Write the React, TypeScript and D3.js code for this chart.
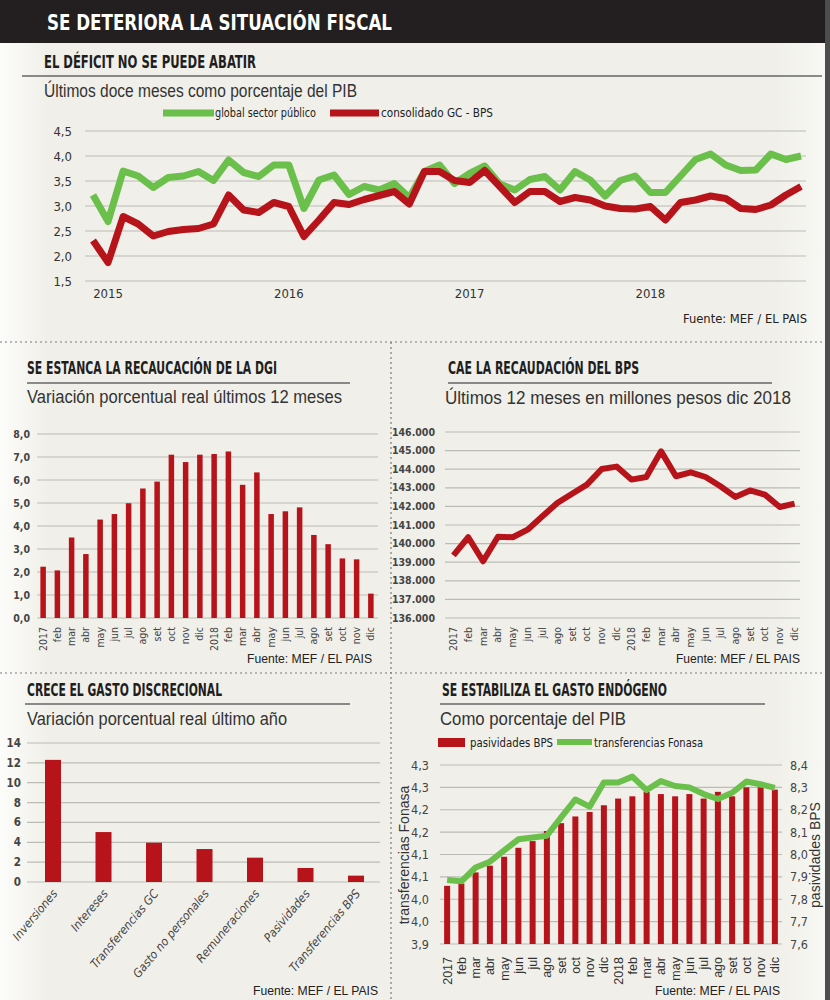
import { useEffect, useRef } from 'react';
import * as d3 from 'd3';

const W = 830;
const H = 1000;

// ---- datos: déficit fiscal (últimos 12 meses, % PIB), ene-2015 a dic-2018
const DEFICIT_YEARS = ['2015', '2016', '2017', '2018'];
const DEFICIT_GLOBAL = [
  3.22, 2.69, 3.7, 3.6, 3.37, 3.57, 3.6, 3.69, 3.51, 3.92, 3.67, 3.59,
  3.82, 3.82, 2.95, 3.52, 3.62, 3.23, 3.39, 3.32, 3.45, 3.17, 3.69, 3.82,
  3.45, 3.65, 3.8, 3.44, 3.32, 3.53, 3.59, 3.32, 3.69, 3.52, 3.2, 3.51,
  3.6, 3.27, 3.27, 3.6, 3.93, 4.04, 3.82, 3.71, 3.72, 4.04, 3.93, 4.0,
];
const DEFICIT_GC_BPS = [
  2.31, 1.87, 2.79, 2.64, 2.4, 2.49, 2.53, 2.55, 2.64, 3.22, 2.92, 2.87,
  3.07, 2.99, 2.39, 2.72, 3.07, 3.03, 3.13, 3.21, 3.29, 3.04, 3.69, 3.69,
  3.51, 3.47, 3.71, 3.39, 3.07, 3.29, 3.29, 3.09, 3.17, 3.12, 3.0, 2.95,
  2.94, 2.99, 2.72, 3.07, 3.12, 3.2, 3.15, 2.95, 2.93, 3.02, 3.22, 3.39,
];

// ---- meses 2017-2018 (eje compartido por tres gráficos)
const MONTHS = [
  '2017', 'feb', 'mar', 'abr', 'may', 'jun', 'jul', 'ago', 'set', 'oct', 'nov', 'dic',
  '2018', 'feb', 'mar', 'abr', 'may', 'jun', 'jul', 'ago', 'set', 'oct', 'nov', 'dic',
];
const DGI_VAR = [
  2.23, 2.07, 3.5, 2.78, 4.28, 4.52, 4.99, 5.63, 5.93, 7.1, 6.78, 7.1,
  7.13, 7.24, 5.79, 6.33, 4.52, 4.64, 4.81, 3.61, 3.21, 2.59, 2.55, 1.06,
];
const BPS_RECAUDACION = [
  139370, 140340, 139050, 140370, 140340, 140750, 141470, 142180, 142680, 143170, 144010, 144140,
  143440, 143580, 144960, 143620, 143830, 143580, 143080, 142510, 142860, 142630, 141970, 142150,
];

// ---- gasto discrecional
const GASTO_CATS = [
  'Inversiones', 'Intereses', 'Transferencias GC', 'Gasto no personales',
  'Remuneraciones', 'Pasividades', 'Transferencias BPS',
];
const GASTO_VAR = [12.3, 5.03, 3.96, 3.32, 2.45, 1.41, 0.64];

// ---- gasto endógeno
const PASIVIDADES_BPS = [
  7.86, 7.87, 7.92, 7.95, 7.99, 8.03, 8.06, 8.105, 8.14, 8.17, 8.19, 8.22,
  8.25, 8.26, 8.28, 8.27, 8.26, 8.27, 8.25, 8.28, 8.26, 8.3, 8.3, 8.29,
];
const TRANSF_FONASA = [
  4.043, 4.04, 4.071, 4.084, 4.109, 4.134, 4.138, 4.142, 4.183, 4.223, 4.207, 4.261,
  4.261, 4.274, 4.244, 4.264, 4.253, 4.25, 4.235, 4.224, 4.238, 4.263, 4.257, 4.249,
];
const FONASA_TICKS = [3.9, 3.95, 4.0, 4.05, 4.1, 4.15, 4.2, 4.25, 4.3];
const FONASA_TICK_LABELS = ['3,9', '4,0', '4,0', '4,1', '4,1', '4,2', '4,2', '4,3', '4,3'];

const RED = '#b7131b';
const GREEN = '#6bbf4b';
const GRID = '#bcbcb7';
const INK = '#2a2a2a';
const NARROW = "'Liberation Sans Narrow', 'DejaVu Sans Condensed', 'Roboto Condensed', 'Liberation Sans', Arial, sans-serif";
const SANS = "'Liberation Sans', Arial, Helvetica, sans-serif";

const loc = d3.formatLocale({ decimal: ',', thousands: '.', grouping: [3], currency: ['$', ''] });
const f1 = loc.format('.1f');
const fMiles = loc.format(',.0f');

type G = d3.Selection<SVGGElement, unknown, null, undefined>;

function label(
  g: G, x: number, y: number, s: string,
  o: { size?: number; family?: string; weight?: string | number; fill?: string; anchor?: string; width?: number; style?: string; transform?: string } = {},
) {
  const t = g.append('text')
    .attr('x', x)
    .attr('y', y)
    .attr('font-size', o.size ?? 12)
    .attr('font-family', o.family ?? NARROW)
    .attr('font-weight', o.weight ?? 400)
    .attr('fill', o.fill ?? INK)
    .attr('text-anchor', o.anchor ?? 'start')
    .text(s);
  if (o.width) t.attr('textLength', o.width).attr('lengthAdjust', 'spacingAndGlyphs');
  if (o.style) t.attr('font-style', o.style);
  if (o.transform) t.attr('transform', o.transform);
  return t;
}

function heading(g: G, x: number, y: number, title: string, tw: number, lx1: number, lx2: number, ly: number, sub: string, sw: number, sy: number, sx = x) {
  label(g, x, y, title, { size: 17.5, weight: 700, width: tw, fill: '#1e1e1e' });
  g.append('line').attr('x1', lx1).attr('x2', lx2).attr('y1', ly).attr('y2', ly).attr('stroke', '#666').attr('stroke-width', 1.5);
  label(g, sx, sy, sub, { size: 17.5, family: SANS, width: sw, fill: '#333' });
}

function hGrid(g: G, ys: number[], x1: number, x2: number) {
  g.selectAll(null).data(ys).join('line')
    .attr('x1', x1).attr('x2', x2)
    .attr('y1', (d) => d).attr('y2', (d) => d)
    .attr('stroke', GRID).attr('stroke-width', 1.2);
}

export default function App() {
  const ref = useRef<SVGSVGElement>(null);

  useEffect(() => {
    if (!ref.current) return;
    const svg = d3.select(ref.current);
    svg.selectAll('*').remove();

    const defs = svg.append('defs');
    const grad = defs.append('linearGradient').attr('id', 'bg').attr('x1', 0).attr('x2', 1).attr('y1', 0).attr('y2', 0);
    [['0%', '#fcfcfa'], ['6%', '#f0efe9'], ['93%', '#f0efe9'], ['99%', '#f7f7f3']].forEach(([o, c]) =>
      grad.append('stop').attr('offset', o).attr('stop-color', c));
    svg.append('rect').attr('width', W).attr('height', H).attr('fill', 'url(#bg)');

    const root = svg.append('g') as unknown as G;

    // barra de título
    root.append('rect').attr('x', 0).attr('y', 0).attr('width', 825).attr('height', 43).attr('fill', '#231f20');
    label(root, 47, 30, 'SE DETERIORA LA SITUACIÓN FISCAL', { size: 21, weight: 700, fill: '#fff', width: 345 });
    root.append('rect').attr('x', 825).attr('y', 0).attr('width', 5).attr('height', H).attr('fill', '#4d4d4d');

    // separadores punteados
    const dash = (x1: number, y1: number, x2: number, y2: number) =>
      root.append('line').attr('x1', x1).attr('y1', y1).attr('x2', x2).attr('y2', y2)
        .attr('stroke', '#7a7a7a').attr('stroke-width', 1.2).attr('stroke-dasharray', '2,3');
    dash(0, 342, 825, 342);
    dash(0, 673, 825, 673);
    dash(391, 342, 391, 1000);

    // ================= EL DÉFICIT NO SE PUEDE ABATIR
    {
      const g = root.append('g') as unknown as G;
      heading(g, 44, 68, 'EL DÉFICIT NO SE PUEDE ABATIR', 212, 22, 822, 76, 'Últimos doce meses como porcentaje del PIB', 313, 97);
      const x = d3.scaleLinear().domain([0, DEFICIT_GLOBAL.length - 1]).range([93, 801]);
      const y = d3.scaleLinear().domain([1.5, 4.5]).range([281, 131]);
      const ticks = y.ticks(6);
      hGrid(g, ticks.map((t) => y(t)), 85, 806);
      ticks.forEach((t) => label(g, 72, y(t) + 4.5, f1(t), { size: 13, anchor: 'end', fill: '#333' }));
      DEFICIT_YEARS.forEach((yr, k) => label(g, x(1 + 12 * k), 298, yr, { size: 13, anchor: 'middle', fill: '#333' }));

      // leyenda
      g.append('line').attr('x1', 163).attr('x2', 214).attr('y1', 113).attr('y2', 113).attr('stroke', GREEN).attr('stroke-width', 7);
      label(g, 215, 117, 'global sector público', { size: 12.5, width: 101, fill: '#222' });
      g.append('line').attr('x1', 330).attr('x2', 379).attr('y1', 113).attr('y2', 113).attr('stroke', RED).attr('stroke-width', 7);
      label(g, 381, 117, 'consolidado GC - BPS', { size: 12.5, width: 112, fill: '#222' });

      const line = d3.line<number>().x((_, i) => x(i)).y((d) => y(d));
      [[DEFICIT_GLOBAL, GREEN], [DEFICIT_GC_BPS, RED]].forEach(([data, color]) =>
        g.append('path').attr('d', line(data as number[])).attr('fill', 'none')
          .attr('stroke', color as string).attr('stroke-width', 7).attr('stroke-linejoin', 'round'));

      label(g, 683, 323, 'Fuente: MEF / EL PAIS', { size: 12, width: 124, fill: '#222' });
    }

    // ================= SE ESTANCA LA RECAUDACIÓN DE LA DGI
    {
      const g = root.append('g') as unknown as G;
      heading(g, 27, 374, 'SE ESTANCA LA RECAUCACIÓN DE LA DGI', 250, 27, 350, 383, 'Variación porcentual real últimos 12 meses', 315, 403);
      const x = d3.scalePoint<number>().domain(d3.range(MONTHS.length)).range([36, 378]).padding(0.5);
      const y = d3.scaleLinear().domain([0, 8]).range([618, 434]);
      const ticks = y.ticks(8);
      hGrid(g, ticks.map((t) => y(t)), 37, 378);
      ticks.forEach((t) => label(g, 30, y(t) + 3.5, f1(t), { size: 10.5, anchor: 'end', fill: '#444', weight: 700 }));
      g.selectAll(null).data(DGI_VAR).join('rect')
        .attr('x', (_, i) => (x(i) as number) - 2.75).attr('width', 5.5)
        .attr('y', (d) => y(d)).attr('height', (d) => y(0) - y(d)).attr('fill', RED);
      MONTHS.forEach((m, i) => {
        const cx = (x(i) as number) + 3.5;
        label(g, cx, 627, m, { size: 10.5, anchor: 'end', fill: '#444', transform: `rotate(-90 ${cx} 627)` });
      });
      label(g, 247, 663, 'Fuente: MEF / EL PAIS', { size: 12, family: SANS, width: 125, fill: '#222' });
    }

    // ================= CAE LA RECAUDACIÓN DEL BPS
    {
      const g = root.append('g') as unknown as G;
      heading(g, 448, 374, 'CAE LA RECAUDACIÓN DEL BPS', 191, 448, 772, 383, 'Últimos 12 meses en millones pesos dic 2018', 346, 404, 445);
      const x = d3.scalePoint<number>().domain(d3.range(MONTHS.length)).range([446, 802]).padding(0.5);
      const y = d3.scaleLinear().domain([136000, 146000]).range([618, 432]);
      const ticks = y.ticks(10);
      hGrid(g, ticks.map((t) => y(t)), 445, 800);
      ticks.forEach((t) => label(g, 435, y(t) + 3.5, fMiles(t), { size: 10.5, anchor: 'end', fill: '#444', weight: 700 }));
      const line = d3.line<number>().x((_, i) => x(i) as number).y((d) => y(d));
      g.append('path').attr('d', line(BPS_RECAUDACION)).attr('fill', 'none')
        .attr('stroke', RED).attr('stroke-width', 6).attr('stroke-linejoin', 'round');
      MONTHS.forEach((m, i) => {
        const cx = (x(i) as number) + 3.5;
        label(g, cx, 627, m, { size: 10.5, anchor: 'end', fill: '#444', transform: `rotate(-90 ${cx} 627)` });
      });
      label(g, 676, 663, 'Fuente: MEF / EL PAIS', { size: 12, family: SANS, width: 124, fill: '#222' });
    }

    // ================= CRECE EL GASTO DISCRECIONAL
    {
      const g = root.append('g') as unknown as G;
      heading(g, 27, 696, 'CRECE EL GASTO DISCRECIONAL', 195, 25, 350, 704, 'Variación porcentual real último año', 260, 725);
      const x = d3.scalePoint<string>().domain(GASTO_CATS).range([27.75, 381.25]).padding(0.5);
      const y = d3.scaleLinear().domain([0, 14]).range([882, 743]);
      const ticks = y.ticks(7);
      hGrid(g, ticks.map((t) => y(t)), 27, 380);
      ticks.forEach((t) => label(g, 21, y(t) + 4, String(t), { size: 11.5, anchor: 'end', fill: '#444', weight: 700 }));
      g.selectAll(null).data(GASTO_VAR).join('rect')
        .attr('x', (_, i) => (x(GASTO_CATS[i]) as number) - 8).attr('width', 16)
        .attr('y', (d) => y(d)).attr('height', (d) => y(0) - y(d)).attr('fill', RED);
      GASTO_CATS.forEach((c) => {
        const cx = (x(c) as number) + 5;
        label(g, cx, 894, c, { size: 12, anchor: 'end', fill: '#444', style: 'italic', transform: `rotate(-50 ${cx} 894)` });
      });
      label(g, 253, 995, 'Fuente: MEF / EL PAIS', { size: 12, family: SANS, width: 125, fill: '#222' });
    }

    // ================= SE ESTABILIZA EL GASTO ENDÓGENO
    {
      const g = root.append('g') as unknown as G;
      heading(g, 442, 696, 'SE ESTABILIZA EL GASTO ENDÓGENO', 225, 440, 765, 704, 'Como porcentaje del PIB', 186, 725, 440);
      const x = d3.scalePoint<number>().domain(d3.range(MONTHS.length)).range([440, 782]).padding(0.5);
      const yL = d3.scaleLinear().domain([3.9, 4.3]).range([944, 765]);
      const yR = d3.scaleLinear().domain([7.6, 8.4]).range([944, 765]);
      hGrid(g, FONASA_TICKS.map((t) => yL(t)), 440, 782);
      FONASA_TICKS.forEach((t, i) => label(g, 429, yL(t) + 4.5, FONASA_TICK_LABELS[i], { size: 12.5, anchor: 'end', fill: '#444' }));
      yR.ticks(8).forEach((t) => label(g, 790, yR(t) + 4.5, f1(t), { size: 12.5, fill: '#444' }));

      g.selectAll(null).data(PASIVIDADES_BPS).join('rect')
        .attr('x', (_, i) => (x(i) as number) - 3).attr('width', 6)
        .attr('y', (d) => yR(d)).attr('height', (d) => yR(7.6) - yR(d)).attr('fill', RED);
      const line = d3.line<number>().x((_, i) => x(i) as number).y((d) => yL(d));
      g.append('path').attr('d', line(TRANSF_FONASA)).attr('fill', 'none')
        .attr('stroke', GREEN).attr('stroke-width', 6).attr('stroke-linejoin', 'round');

      label(g, 409, 855, 'transferencias Fonasa', { size: 14, family: SANS, anchor: 'middle', fill: '#333', transform: 'rotate(-90 409 855)' });
      label(g, 820, 855, 'pasividades BPS', { size: 14, family: SANS, anchor: 'middle', fill: '#333', transform: 'rotate(-90 820 855)' });

      // leyenda
      g.append('rect').attr('x', 438).attr('y', 738).attr('width', 27).attr('height', 9).attr('fill', RED);
      label(g, 470, 747, 'pasividades BPS', { size: 13, width: 83, fill: '#222' });
      g.append('line').attr('x1', 557).attr('x2', 592).attr('y1', 742).attr('y2', 742).attr('stroke', GREEN).attr('stroke-width', 6);
      label(g, 594, 747, 'transferencias Fonasa', { size: 13, width: 109, fill: '#222' });

      MONTHS.forEach((m, i) => {
        const cx = (x(i) as number) + 4.5;
        label(g, cx, 957, m, { size: 12.5, family: SANS, anchor: 'end', fill: '#333', transform: `rotate(-90 ${cx} 957)` });
      });
      label(g, 655, 995, 'Fuente: MEF / EL PAIS', { size: 12, family: SANS, width: 125, fill: '#222' });
    }
  }, []);

  return (
    <svg
      ref={ref}
      width={W}
      height={H}
      style={{ position: 'absolute', left: 0, top: 0, display: 'block' }}
      role="img"
      aria-label="Se deteriora la situación fiscal"
    />
  );
}
